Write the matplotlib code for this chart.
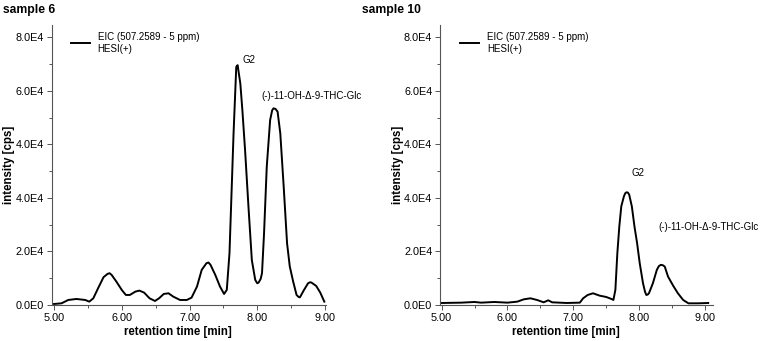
import numpy as np
import matplotlib
matplotlib.use("Agg")
import matplotlib.pyplot as plt

plt.rcParams['font.family'] = ['Liberation Sans', 'DejaVu Sans']

# retention time [min] and intensity [cps]
t_s6 = [5.00, 5.11, 5.21, 5.33, 5.46, 5.52, 5.58, 5.65, 5.73, 5.79, 5.82, 5.85, 5.92,
        6.00, 6.06, 6.12, 6.20, 6.26, 6.33, 6.41, 6.49, 6.55, 6.62, 6.69, 6.76,
        6.86, 6.96, 7.03, 7.11, 7.18, 7.25, 7.28, 7.31, 7.38, 7.45, 7.51, 7.55, 7.59,
        7.62, 7.65, 7.69, 7.71, 7.75, 7.78, 7.82, 7.87, 7.92, 7.97, 8.00, 8.02, 8.05, 8.07,
        8.10, 8.14, 8.19, 8.22, 8.24, 8.27, 8.30, 8.34, 8.39, 8.44, 8.48, 8.53, 8.58, 8.61,
        8.63, 8.69, 8.75, 8.78, 8.80, 8.87, 8.93, 8.99]
i_s6 = [300, 500, 1500, 1800, 1500, 1000, 2000, 5000, 8300, 9300, 9500, 9000, 7000,
        4500, 3000, 3000, 4000, 4300, 3700, 2000, 1200, 2000, 3300, 3500, 2500,
        1500, 1500, 2200, 5500, 10500, 12500, 12700, 12000, 9000, 5500, 3300, 4500, 15500,
        33400, 51300, 71200, 71700, 66200, 58300, 46300, 29400, 13400, 7500, 6500, 6700, 7800, 9500,
        21400, 41300, 55300, 58200, 58800, 58600, 57800, 51300, 35400, 18400, 11500, 7000, 3000, 2400,
        2300, 4500, 6500, 6800, 6700, 5700, 3700, 1000]

t_s10 = [5.00, 5.30, 5.50, 5.60, 5.80, 6.00, 6.15, 6.25, 6.35, 6.45, 6.55, 6.62,
         6.68, 6.90, 7.10, 7.15, 7.22, 7.30, 7.40, 7.50, 7.58, 7.61, 7.64, 7.67,
         7.70, 7.73, 7.77, 7.79, 7.81, 7.83, 7.85, 7.89, 7.93, 7.97, 8.01, 8.06, 8.09, 8.11, 8.13, 8.15,
         8.21, 8.27, 8.30, 8.33, 8.36, 8.39, 8.44, 8.52, 8.59, 8.67, 8.75, 8.90, 9.05]
i_s10 = [600, 700, 900, 700, 900, 700, 1000, 1700, 2000, 1500, 800, 1400,
         800, 600, 700, 2000, 3000, 3500, 2800, 2400, 1800, 1500, 4500, 15500,
         23500, 29500, 32500, 33400, 33700, 33600, 33000, 29500, 23500, 18500, 12500, 6500, 4000, 3000, 3100, 3500,
         6500, 10500, 11600, 12000, 11900, 11500, 8500, 5700, 3500, 1500, 500, 500, 600]

y_ticks = [0, 16000, 32000, 48000, 64000, 80000]
y_tick_labels = ["0.0E0", "2.0E4", "4.0E4", "4.0E4", "6.0E4", "8.0E4"]
x_ticks = [5, 6, 7, 8, 9]
x_tick_labels = ["5.00", "6.00", "7.00", "8.00", "9.00"]

fig = plt.figure(figsize=(7.62, 3.41), dpi=100)
ax1 = fig.add_axes([0.0678, 0.1056, 0.3605, 0.821])
ax2 = fig.add_axes([0.5774, 0.1056, 0.358, 0.821])

panels = [
    (ax1, t_s6, i_s6, (4.965, 9.02), "sample 6", 3,
     (7.88, 73200), (8.06, 62500), -0.135, 0.07),
    (ax2, t_s10, i_s10, (4.975, 9.12), "sample 10", 362,
     (7.99, 39400), (8.29, 23400), -0.133, 0.074),
]

for ax, t, inten, xl, title, title_x, g2_pos, glc_pos, ylab_x, leg_x in panels:
    ax.plot(t, inten, color='black', lw=1.4,
            label="EIC (507.2589 - 5 ppm)\nHESI(+)")
    ax.set_xlim(*xl)
    ax.set_ylim(0, 83700)
    ax.spines['top'].set_visible(False)
    ax.spines['right'].set_visible(False)
    for s in ('left', 'bottom'):
        ax.spines[s].set_color('#555555')
        ax.spines[s].set_linewidth(0.8)
    ax.set_xticks(x_ticks)
    ax.set_xticklabels(x_tick_labels)
    ax.set_xticks([5.5, 6.5, 7.5, 8.5], minor=True)
    ax.set_yticks(y_ticks)
    ax.set_yticklabels(y_tick_labels)
    ax.set_yticks([8000, 24000, 40000, 56000, 72000], minor=True)
    ax.tick_params(which='major', length=3.5, width=0.7, color='#555555',
                   labelsize=7.8, pad=2)
    ax.tick_params(which='minor', length=2.5, width=0.7, color='#555555')

    ax.set_xlabel("retention time [min]", fontsize=8.3, fontweight='bold')
    ax.xaxis.set_label_coords(0.46, -0.075)
    ax.set_ylabel("intensity [cps]", fontsize=8.3, fontweight='bold')
    ax.yaxis.set_label_coords(ylab_x, 0.5)

    ax.legend(loc='upper left', bbox_to_anchor=(leg_x, 0.975), frameon=False,
              fontsize=7, handlelength=1.95, handletextpad=0.8,
              borderpad=0, borderaxespad=0)

    ax.text(*g2_pos, "G2", fontsize=7, ha='center', va='center')
    ax.text(*glc_pos, "(-)-11-OH-\u0394-9-THC-Glc", fontsize=7,
            ha='left', va='center', clip_on=False)

    fig.text(title_x / 762, 1 - 10 / 341, title, fontsize=8.7,
             fontweight='bold', ha='left', va='center')

fig.savefig("out.png", dpi=100)
